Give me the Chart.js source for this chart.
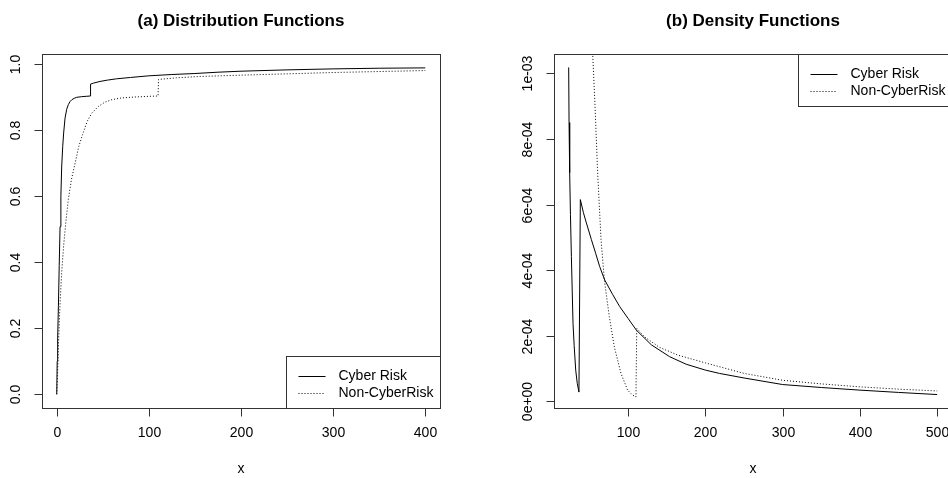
<!DOCTYPE html>
<html>
<head>
<meta charset="utf-8">
<script src="https://cdn.jsdelivr.net/npm/chart.js@4/dist/chart.umd.min.js"></script>
<style>
  html, body { margin: 0; padding: 0; background: #fff; }
  body { width: 948px; height: 478px; overflow: hidden; position: relative; }
  canvas { position: absolute; top: 0; }
  #cdf { left: 0; }
  #pdf { left: 512px; }
</style>
</head>
<body>
<canvas id="cdf" width="474" height="478"></canvas>
<canvas id="pdf" width="474" height="478"></canvas>
<script>
// series names
const seriesNames = ["Cyber Risk", "Non-CyberRisk"];

// (a) distribution functions
const cdfCyberX = [0, 0.5, 1, 1.8, 2.7, 3.6, 4.5, 5.4, 6.5, 7.5, 9, 10.8, 12.6, 14.4, 16.5, 19, 21.7, 27, 32, 36.6,
  36.7, 40, 47, 55, 65, 80, 100, 125, 150, 175, 200, 250, 300, 350, 400];
const cdfCyberY = [0, 0.1, 0.17, 0.265, 0.39, 0.507, 0.6, 0.69, 0.75, 0.79, 0.835, 0.862, 0.876, 0.885, 0.891, 0.895, 0.898, 0.9, 0.901, 0.902,
  0.938, 0.941, 0.946, 0.95, 0.954, 0.958, 0.963, 0.967, 0.97, 0.974, 0.977, 0.981, 0.984, 0.986, 0.987];
const cdfNonX = [0, 0.5, 1, 2, 3.5, 5.4, 7.5, 9.5, 12.6, 16, 20, 24, 28, 33, 38, 45, 52, 60, 70, 85, 100, 110,
  110.5, 130, 155, 200, 250, 300, 350, 400];
const cdfNonY = [0, 0.03, 0.07, 0.16, 0.27, 0.37, 0.45, 0.51, 0.59, 0.65, 0.7, 0.75, 0.785, 0.825, 0.85, 0.87, 0.883, 0.891, 0.896, 0.899, 0.901, 0.902,
  0.952, 0.957, 0.961, 0.965, 0.969, 0.973, 0.976, 0.979];
const cdfXTicks = [0, 100, 200, 300, 400];
const cdfXLabels = ["0", "100", "200", "300", "400"];
const cdfYTicks = [0, 0.2, 0.4, 0.6, 0.8, 1.0];
const cdfYLabels = ["0.0", "0.2", "0.4", "0.6", "0.8", "1.0"];

// (b) density functions
const pdfCyberX = [22.9, 23.4, 24.2, 25.2, 26.4, 28.5, 30, 32, 34, 36.2,
  38, 42, 45.8, 52.3, 58, 63, 69.5, 80, 88.9, 100, 110.5, 130, 153.6, 175, 200, 218, 250, 300, 350, 400, 450, 500];
const pdfCyberY = [0.001018, 0.00085, 0.000697, 0.00057, 0.000442, 0.000238, 0.00017, 0.000095, 0.000055, 0.000028,
  0.000615, 0.000575, 0.000544, 0.000493, 0.00045, 0.000411, 0.00037, 0.000325, 0.000289, 0.000252, 0.000217, 0.000172, 0.000136, 0.000113, 0.000095, 0.000085, 0.000071, 0.000051, 0.000042, 0.000034, 0.000027, 0.0000205];
const pdfNonX = [51, 54, 57, 60.4, 64.8, 69.1, 75.5, 82, 90.6, 99.2, 105, 110,
  111, 120.8, 140, 164, 200, 250, 300, 350, 400, 450, 500];
const pdfNonY = [0.0013, 0.001059, 0.000901, 0.000697, 0.000493, 0.00037, 0.000258, 0.000166, 0.000085, 0.000034, 0.00002, 0.000013,
  0.0002225, 0.000197, 0.000165, 0.000141, 0.000117, 0.000085, 0.000064, 0.000053, 0.000044, 0.000037, 0.0000315];
const pdfXTicks = [100, 200, 300, 400, 500];
const pdfXLabels = ["100", "200", "300", "400", "500"];
const pdfYTicks = [0, 0.0002, 0.0004, 0.0006, 0.0008, 0.001];
const pdfYLabels = ["0e+00", "2e-04", "4e-04", "6e-04", "8e-04", "1e-03"];

const FONT = "'Liberation Sans', Arial, sans-serif";
const DOTS = [1, 2];

function points(xs, ys) {
  return xs.map((x, i) => ({ x: x, y: ys[i] }));
}

// R-like frame: box, outward ticks, rotated y labels, titles, legend
const rFrame = {
  id: 'rFrame',
  afterDraw(chart) {
    const o = chart.options.plugins.rFrame;
    const ctx = chart.ctx;
    const a = chart.chartArea;
    const sx = chart.scales.x, sy = chart.scales.y;
    ctx.save();
    ctx.strokeStyle = '#333';
    ctx.fillStyle = '#000';
    ctx.lineWidth = 1;
    const L = Math.round(a.left) + 0.5, R = Math.round(a.right) + 0.5;
    const T = Math.round(a.top) + 0.5, B = Math.round(a.bottom) + 0.5;
    ctx.strokeRect(L, T, R - L, B - T);

    ctx.font = '14px ' + FONT;
    ctx.textAlign = 'center';
    ctx.textBaseline = 'middle';
    o.xTicks.forEach((v, i) => {
      const px = Math.round(sx.getPixelForValue(v)) + 0.5;
      ctx.beginPath(); ctx.moveTo(px, B); ctx.lineTo(px, B + 8); ctx.stroke();
      ctx.fillText(o.xLabels[i], px, B + 25);
    });
    o.yTicks.forEach((v, i) => {
      const py = Math.round(sy.getPixelForValue(v)) + 0.5;
      ctx.beginPath(); ctx.moveTo(L - 8, py); ctx.lineTo(L, py); ctx.stroke();
      ctx.save();
      ctx.translate(L - 26, py);
      ctx.rotate(-Math.PI / 2);
      ctx.fillText(o.yLabels[i], 0, 0);
      ctx.restore();
    });
    ctx.fillText('x', (a.left + a.right) / 2, 469);

    ctx.font = 'bold 17px ' + FONT;
    ctx.fillText(o.title, (a.left + a.right) / 2, 21);

    // legend
    const w = 154, h = 52;
    const bx = Math.round(a.right - w) + 0.5;
    const by = o.legend === 'top' ? T : B - h;
    ctx.fillStyle = '#fff';
    ctx.fillRect(bx, by, w, h);
    ctx.strokeRect(bx, by, w, h);
    ctx.fillStyle = '#000';
    ctx.font = '14px ' + FONT;
    ctx.textAlign = 'left';
    chart.data.datasets.forEach((ds, i) => {
      const ly = Math.round(by + 19 + i * 17.4) + 0.5;
      ctx.setLineDash(ds.borderDash || []);
      ctx.strokeStyle = '#000';
      ctx.beginPath(); ctx.moveTo(bx + 12, ly); ctx.lineTo(bx + 39, ly); ctx.stroke();
      ctx.setLineDash([]);
      ctx.fillText(ds.label, bx + 52, ly);
    });
    ctx.restore();
  }
};

function makeChart(id, sets, xr, yr, frame) {
  return new Chart(document.getElementById(id), {
    type: 'line',
    data: {
      datasets: sets.map((s, i) => ({
        label: seriesNames[i],
        data: s,
        borderColor: '#000',
        borderWidth: 1,
        borderDash: i === 1 ? DOTS : [],
        pointRadius: 0,
        tension: 0,
        fill: false
      }))
    },
    options: {
      responsive: false,
      animation: false,
      events: [],
      layout: { padding: { left: 0, right: 34, top: 54, bottom: 0 } },
      scales: {
        x: {
          type: 'linear', min: xr[0], max: xr[1],
          grid: { display: false }, border: { display: false },
          ticks: { display: false },
          afterFit: s => { s.height = 70; },
          afterBuildTicks: s => { s.ticks = frame.xTicks.map(v => ({ value: v })); }
        },
        y: {
          type: 'linear', min: yr[0], max: yr[1],
          grid: { display: false }, border: { display: false },
          ticks: { display: false },
          afterFit: s => { s.width = 42; },
          afterBuildTicks: s => { s.ticks = frame.yTicks.map(v => ({ value: v })); }
        }
      },
      plugins: {
        legend: { display: false },
        tooltip: { enabled: false },
        rFrame: frame
      }
    },
    plugins: [rFrame]
  });
}

makeChart('cdf',
  [points(cdfCyberX, cdfCyberY), points(cdfNonX, cdfNonY)],
  [-16, 416], [-0.0415, 1.029],
  { title: '(a) Distribution Functions', xTicks: cdfXTicks, xLabels: cdfXLabels,
    yTicks: cdfYTicks, yLabels: cdfYLabels, legend: 'bottom' });

makeChart('pdf',
  [points(pdfCyberX, pdfCyberY), points(pdfNonX, pdfNonY)],
  [3.9, 519.2], [-0.0000205, 0.001059],
  { title: '(b) Density Functions', xTicks: pdfXTicks, xLabels: pdfXLabels,
    yTicks: pdfYTicks, yLabels: pdfYLabels, legend: 'top' });
</script>
</body>
</html>
